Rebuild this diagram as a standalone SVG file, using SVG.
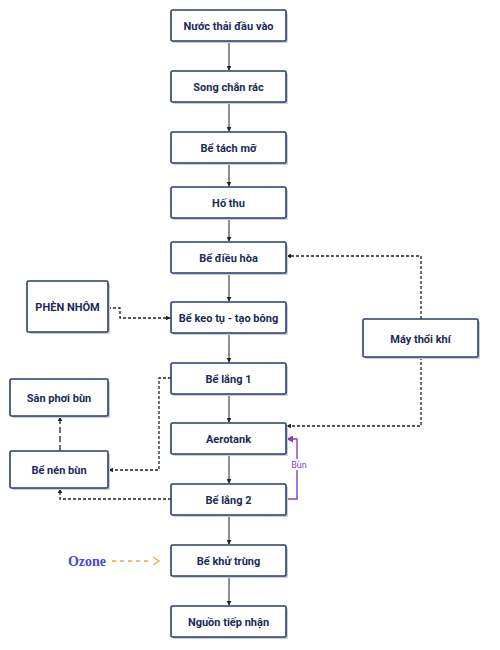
<svg xmlns="http://www.w3.org/2000/svg" width="500" height="650" viewBox="0 0 500 650">
<defs>
<style>
.box{fill:#fff;stroke:#2b3d6b;stroke-width:1.6}
.sh{fill:#c9cdd6}
.t{font-family:Roboto,"Liberation Sans",sans-serif;font-weight:bold;font-size:11px;fill:#1b2a5c;text-anchor:middle}
.solid{fill:none;stroke:#222;stroke-width:1}
.dash{fill:none;stroke:#222;stroke-width:1.3;stroke-dasharray:3 2}
.ldash{fill:none;stroke:#222;stroke-width:1.3;stroke-dasharray:6 3}
.bun{fill:none;stroke:#8a3fc0;stroke-width:1.4}
</style>
<marker id="ah" viewBox="0 0 8 8" refX="7" refY="4" markerWidth="5" markerHeight="5" orient="auto" markerUnits="userSpaceOnUse">
<path d="M0,0 L8,4 L0,8 z" fill="#222"/>
</marker>
<marker id="ap" viewBox="0 0 8 8" refX="7" refY="4" markerWidth="7" markerHeight="7" orient="auto" markerUnits="userSpaceOnUse">
<path d="M0,0 L8,4 L0,8 z" fill="#8a3fc0"/>
</marker>
</defs>
<rect width="500" height="650" fill="#fff"/>

<g id="connectors">
<path class="solid" d="M229,42 V70" marker-end="url(#ah)"/>
<path class="solid" d="M229,102 V131" marker-end="url(#ah)"/>
<path class="solid" d="M229,163 V186" marker-end="url(#ah)"/>
<path class="solid" d="M229,218 V241" marker-end="url(#ah)"/>
<path class="solid" d="M229,273 V301" marker-end="url(#ah)"/>
<path class="solid" d="M229,333 V362" marker-end="url(#ah)"/>
<path class="solid" d="M229,394 V422" marker-end="url(#ah)"/>
<path class="solid" d="M229,454 V483" marker-end="url(#ah)"/>
<path class="solid" d="M229,515 V544" marker-end="url(#ah)"/>
<path class="solid" d="M229,576 V605" marker-end="url(#ah)"/>
<path class="dash" d="M108,308 H120 V318 H170" marker-end="url(#ah)"/>
<path class="dash" d="M421,319 V256 H287" marker-end="url(#ah)"/>
<path class="dash" d="M421,357 V426 H287" marker-end="url(#ah)"/>
<path class="dash" d="M171,378 H159 V470 H109" marker-end="url(#ah)"/>
<path class="dash" d="M171,499 H60 V489" marker-end="url(#ah)"/>
<path class="ldash" d="M60,451 V417" marker-end="url(#ah)"/>
<path class="bun" d="M286,499 H297 V439 H287" marker-end="url(#ap)"/>
<rect x="291" y="459" width="14" height="11" fill="#fff"/>
<text x="299" y="468" font-family="Roboto,'Liberation Sans',sans-serif" font-size="9" fill="#8a3fc0" text-anchor="middle">Bùn</text>
<path d="M112,561 H150" fill="none" stroke="#f5a050" stroke-width="1.5" stroke-dasharray="4 4"/>
<path d="M153,557 L159,561 L153,565" fill="none" stroke="#f5a050" stroke-width="1.4"/>
<text x="87" y="566" font-family="'Liberation Serif',serif" font-weight="bold" font-size="14" fill="#4646d8" text-anchor="middle">Ozone</text>
</g>

<g id="n1"><rect class="sh" x="173" y="12" width="115" height="31" rx="1.5"/><rect class="box" x="171" y="10" width="115" height="31" rx="1.5"/><text class="t" x="228.5" y="29.5">Nước thải đầu vào</text></g>
<g id="n2"><rect class="sh" x="173" y="73" width="115" height="31" rx="1.5"/><rect class="box" x="171" y="71" width="115" height="31" rx="1.5"/><text class="t" x="228.5" y="90.5">Song chắn rác</text></g>
<g id="n3"><rect class="sh" x="173" y="134" width="115" height="31" rx="1.5"/><rect class="box" x="171" y="132" width="115" height="31" rx="1.5"/><text class="t" x="228.5" y="151.5">Bể tách mỡ</text></g>
<g id="n4"><rect class="sh" x="173" y="189" width="115" height="31" rx="1.5"/><rect class="box" x="171" y="187" width="115" height="31" rx="1.5"/><text class="t" x="228.5" y="206.5">Hố thu</text></g>
<g id="n5"><rect class="sh" x="173" y="244" width="115" height="31" rx="1.5"/><rect class="box" x="171" y="242" width="115" height="31" rx="1.5"/><text class="t" x="228.5" y="261.5">Bể điều hòa</text></g>
<g id="n6"><rect class="sh" x="173" y="304" width="115" height="31" rx="1.5"/><rect class="box" x="171" y="302" width="115" height="31" rx="1.5"/><text class="t" x="228.5" y="321.5">Bể keo tụ - tạo bông</text></g>
<g id="n7"><rect class="sh" x="173" y="365" width="115" height="31" rx="1.5"/><rect class="box" x="171" y="363" width="115" height="31" rx="1.5"/><text class="t" x="228.5" y="382.5">Bể lắng 1</text></g>
<g id="n8"><rect class="sh" x="173" y="425" width="115" height="31" rx="1.5"/><rect class="box" x="171" y="423" width="115" height="31" rx="1.5"/><text class="t" x="228.5" y="442.5">Aerotank</text></g>
<g id="n9"><rect class="sh" x="173" y="486" width="115" height="31" rx="1.5"/><rect class="box" x="171" y="484" width="115" height="31" rx="1.5"/><text class="t" x="228.5" y="503.5">Bể lắng 2</text></g>
<g id="n10"><rect class="sh" x="173" y="547" width="115" height="31" rx="1.5"/><rect class="box" x="171" y="545" width="115" height="31" rx="1.5"/><text class="t" x="228.5" y="564.5">Bể khử trùng</text></g>
<g id="n11"><rect class="sh" x="173" y="608" width="115" height="31" rx="1.5"/><rect class="box" x="171" y="606" width="115" height="31" rx="1.5"/><text class="t" x="228.5" y="625.5">Nguồn tiếp nhận</text></g>
<g id="phen"><rect class="sh" x="29" y="283" width="81" height="51" rx="1.5"/><rect class="box" x="27" y="281" width="81" height="51" rx="1.5"/><text class="t" x="67.5" y="310.5">PHÈN NHÔM</text></g>
<g id="sanphoi"><rect class="sh" x="12" y="381" width="98" height="37" rx="1.5"/><rect class="box" x="10" y="379" width="98" height="37" rx="1.5"/><text class="t" x="59" y="401.5">Sân phơi bùn</text></g>
<g id="nenbun"><rect class="sh" x="12" y="453" width="98" height="37" rx="1.5"/><rect class="box" x="10" y="451" width="98" height="37" rx="1.5"/><text class="t" x="59" y="473.5">Bể nén bùn</text></g>
<g id="maythoi"><rect class="sh" x="365" y="321" width="115" height="38" rx="1.5"/><rect class="box" x="363" y="319" width="115" height="38" rx="1.5"/><text class="t" x="420.5" y="342.5">Máy thổi khí</text></g>
</svg>
